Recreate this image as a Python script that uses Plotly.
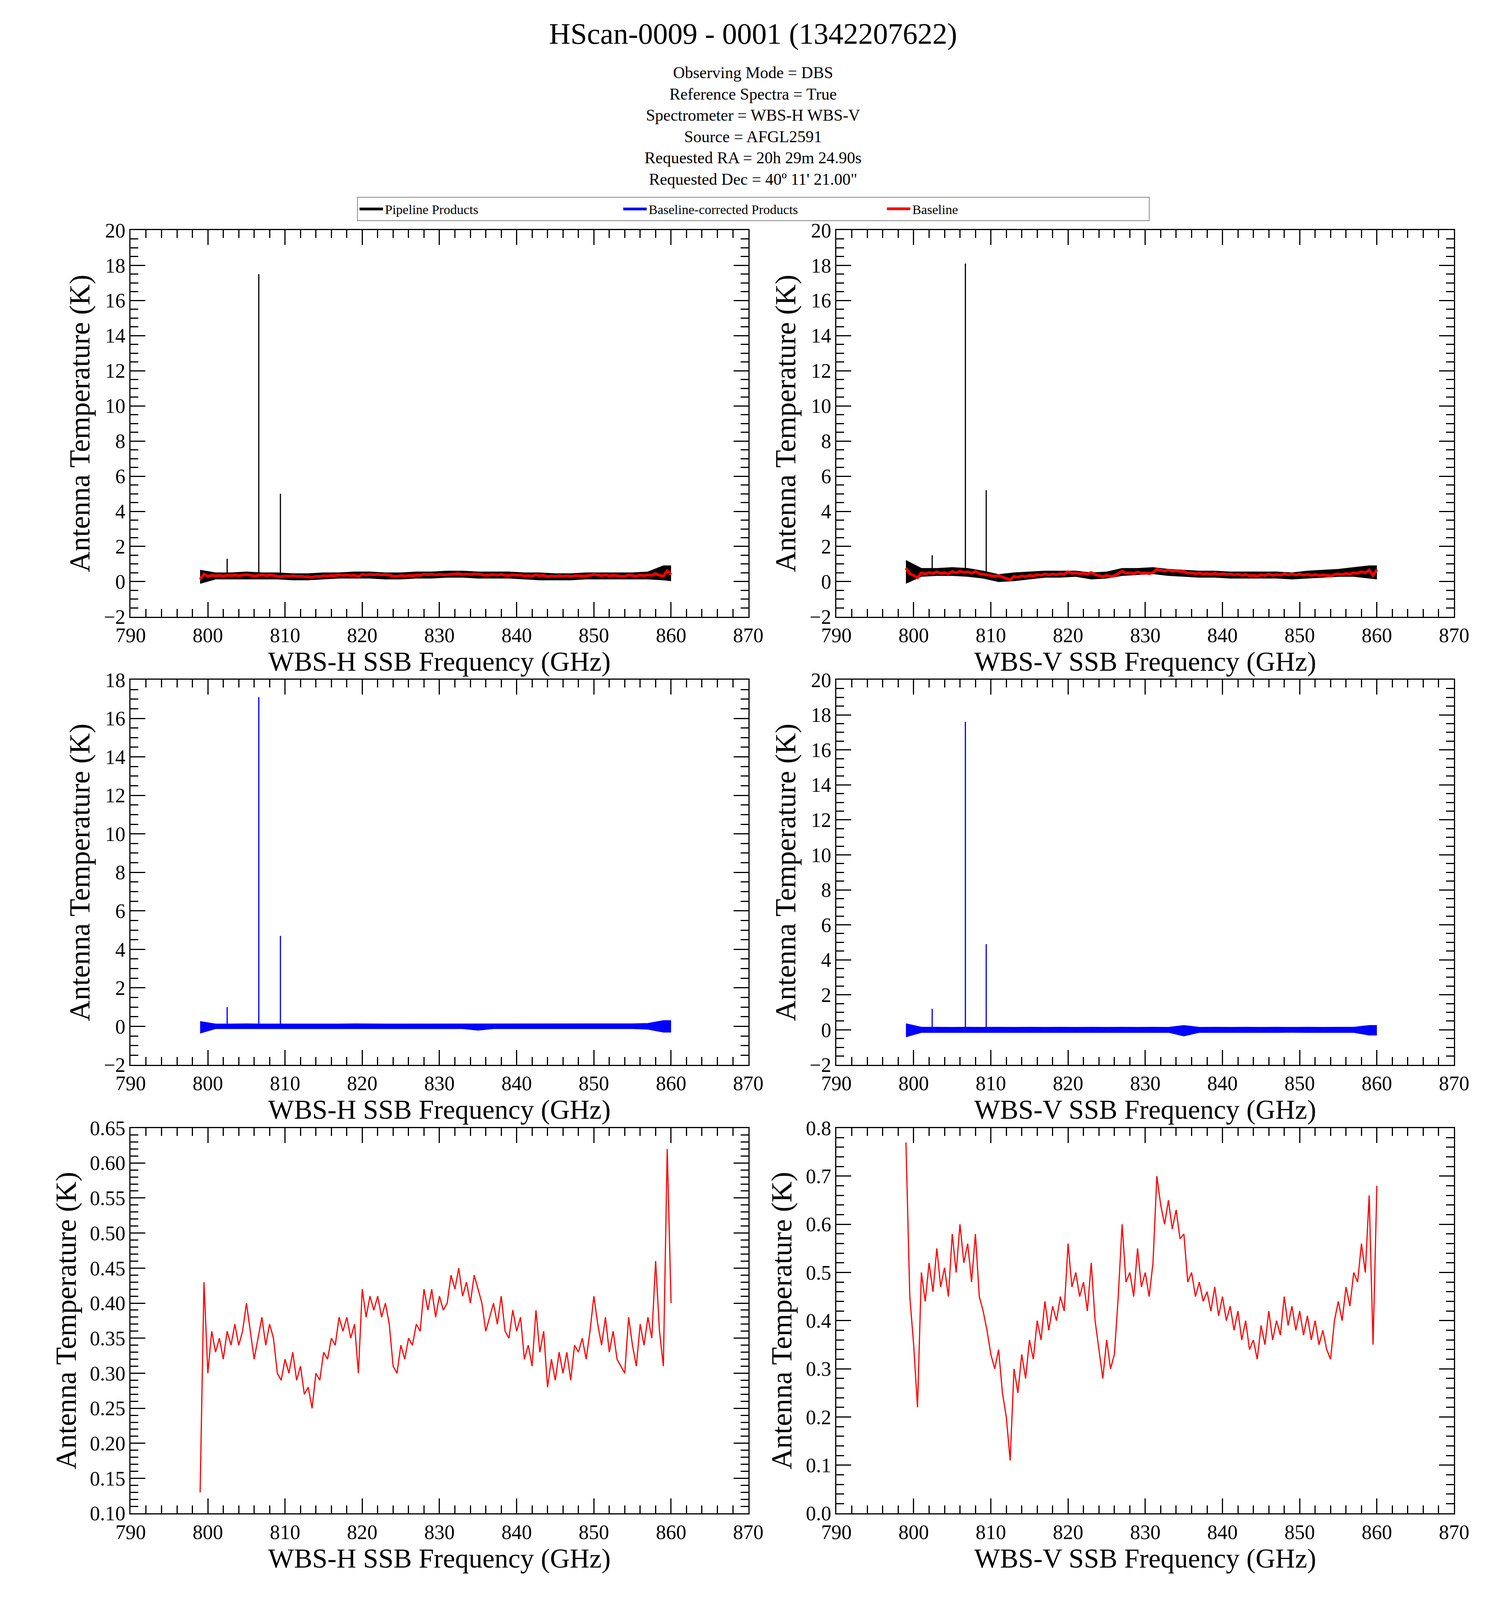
import plotly.graph_objects as go

# 1. SPECTRA VALUES
FREQ = [799.0 + 0.5 * i for i in range(123)]  # 0.5 GHz grid, 799-860
BASE_H = [0.13, 0.43, 0.30, 0.36, 0.33, 0.35, 0.32, 0.36, 0.34, 0.37, 0.34, 0.36, 0.40, 0.36, 0.32, 0.35,
          0.38, 0.34, 0.37, 0.35, 0.30, 0.29, 0.32, 0.30, 0.33, 0.29, 0.31, 0.27, 0.28, 0.25, 0.30, 0.29,
          0.33, 0.32, 0.35, 0.34, 0.38, 0.36, 0.38, 0.35, 0.37, 0.30, 0.42, 0.38, 0.41, 0.39, 0.41, 0.38,
          0.40, 0.37, 0.31, 0.30, 0.34, 0.32, 0.35, 0.34, 0.37, 0.36, 0.42, 0.39, 0.42, 0.38, 0.41, 0.39,
          0.40, 0.44, 0.42, 0.45, 0.41, 0.43, 0.40, 0.44, 0.42, 0.40, 0.36, 0.38, 0.40, 0.37, 0.41, 0.36,
          0.35, 0.39, 0.36, 0.38, 0.32, 0.34, 0.31, 0.39, 0.33, 0.36, 0.28, 0.32, 0.29, 0.33, 0.30, 0.33,
          0.29, 0.34, 0.33, 0.35, 0.32, 0.36, 0.41, 0.37, 0.34, 0.38, 0.33, 0.36, 0.32, 0.31, 0.30, 0.38,
          0.34, 0.31, 0.37, 0.34, 0.38, 0.35, 0.46, 0.36, 0.31, 0.62, 0.40]
BASE_V = [0.77, 0.45, 0.35, 0.22, 0.50, 0.44, 0.52, 0.46, 0.55, 0.47, 0.51, 0.45, 0.58, 0.50, 0.60, 0.52,
          0.56, 0.48, 0.58, 0.45, 0.42, 0.38, 0.33, 0.30, 0.34, 0.25, 0.20, 0.11, 0.30, 0.25, 0.33, 0.28,
          0.36, 0.32, 0.40, 0.36, 0.44, 0.38, 0.43, 0.40, 0.45, 0.42, 0.56, 0.47, 0.50, 0.45, 0.48, 0.42,
          0.52, 0.40, 0.34, 0.28, 0.36, 0.30, 0.33, 0.45, 0.60, 0.48, 0.50, 0.45, 0.55, 0.47, 0.50, 0.45,
          0.52, 0.70, 0.64, 0.60, 0.65, 0.59, 0.63, 0.57, 0.58, 0.48, 0.50, 0.45, 0.48, 0.44, 0.46, 0.42,
          0.47, 0.41, 0.45, 0.40, 0.43, 0.38, 0.42, 0.36, 0.40, 0.34, 0.36, 0.32, 0.39, 0.35, 0.42, 0.36,
          0.40, 0.37, 0.45, 0.39, 0.43, 0.38, 0.42, 0.37, 0.41, 0.36, 0.40, 0.35, 0.38, 0.34, 0.32, 0.40,
          0.44, 0.40, 0.47, 0.43, 0.50, 0.48, 0.56, 0.50, 0.66, 0.35, 0.68]

# noise envelopes of the products, 2 GHz grid
ENV_F = [799, 801, 803, 805, 807, 809, 811, 813, 815, 817, 819, 821, 823, 825, 827, 829,
         831, 833, 835, 837, 839, 841, 843, 845, 847, 849, 851, 853, 855, 857, 859, 860]
PIPE_H_HI = [0.65, 0.5, 0.5, 0.55, 0.5, 0.5, 0.45, 0.45, 0.5, 0.5, 0.55, 0.55, 0.5, 0.5, 0.55, 0.55,
             0.6, 0.6, 0.55, 0.55, 0.55, 0.5, 0.5, 0.45, 0.45, 0.5, 0.5, 0.5, 0.5, 0.55, 0.9, 0.9]
PIPE_H_LO = [-0.1, 0.15, 0.15, 0.15, 0.15, 0.15, 0.1, 0.1, 0.15, 0.2, 0.2, 0.2, 0.15, 0.15, 0.2, 0.2,
             0.25, 0.25, 0.2, 0.2, 0.2, 0.15, 0.1, 0.1, 0.1, 0.15, 0.15, 0.15, 0.15, 0.15, 0.1, 0.05]
PIPE_V_HI = [1.2, 0.75, 0.75, 0.8, 0.75, 0.6, 0.4, 0.5, 0.55, 0.6, 0.6, 0.6, 0.5, 0.55, 0.75, 0.75,
             0.8, 0.7, 0.65, 0.6, 0.6, 0.55, 0.55, 0.55, 0.55, 0.5, 0.6, 0.65, 0.7, 0.8, 0.9, 0.9]
PIPE_V_LO = [-0.1, 0.3, 0.35, 0.35, 0.3, 0.2, 0.0, 0.05, 0.15, 0.25, 0.25, 0.3, 0.15, 0.2, 0.35, 0.4,
             0.45, 0.35, 0.3, 0.25, 0.25, 0.2, 0.2, 0.2, 0.2, 0.15, 0.2, 0.25, 0.3, 0.3, 0.2, 0.15]
CORR_H_HI = [0.25, 0.12, 0.12, 0.13, 0.12, 0.12, 0.12, 0.11, 0.12, 0.12, 0.13, 0.12, 0.12, 0.12, 0.12, 0.13,
             0.12, 0.13, 0.12, 0.12, 0.12, 0.12, 0.12, 0.12, 0.13, 0.12, 0.12, 0.12, 0.13, 0.15, 0.3, 0.3]
CORR_H_LO = [-0.35, -0.12, -0.12, -0.12, -0.12, -0.13, -0.12, -0.12, -0.12, -0.12, -0.12, -0.12, -0.13, -0.12, -0.12, -0.12,
             -0.12, -0.12, -0.2, -0.12, -0.12, -0.12, -0.12, -0.13, -0.12, -0.12, -0.12, -0.12, -0.12, -0.15, -0.3, -0.3]
CORR_V_HI = [0.35, 0.15, 0.15, 0.14, 0.15, 0.14, 0.15, 0.14, 0.15, 0.14, 0.15, 0.14, 0.15, 0.14, 0.15, 0.14,
             0.15, 0.14, 0.25, 0.14, 0.15, 0.14, 0.15, 0.14, 0.15, 0.14, 0.15, 0.14, 0.15, 0.15, 0.25, 0.25]
CORR_V_LO = [-0.4, -0.15, -0.15, -0.14, -0.15, -0.14, -0.15, -0.14, -0.15, -0.14, -0.15, -0.14, -0.15, -0.14, -0.15, -0.14,
             -0.15, -0.14, -0.35, -0.14, -0.15, -0.14, -0.15, -0.14, -0.15, -0.14, -0.15, -0.14, -0.15, -0.15, -0.3, -0.3]

# narrow emission lines
LINE_F_H = [802.5, 806.6, 809.4]
PIPE_PEAK_H = [1.3, 17.5, 5.0]
CORR_PEAK_H = [1.0, 17.1, 4.7]
LINE_F_V = [802.4, 806.7, 809.4]
PIPE_PEAK_V = [1.5, 18.1, 5.2]
CORR_PEAK_V = [1.2, 17.6, 4.9]

FONT = "Liberation Serif"

# 2. PANEL LAYOUT
XDOM = [[0.0764, 0.4967], [0.5567, 0.977]]
YDOM = [[0.618, 0.863], [0.334, 0.578], [0.0497, 0.294]]


def spikes(freqs, peaks, floor):
    xs, ys = [], []
    for f, p in zip(freqs, peaks):
        xs += [f, f, None]
        ys += [floor, p, None]
    return xs, ys


def band(fig, hi, lo, color, ax, name, show):
    fig.add_trace(go.Scatter(x=ENV_F, y=lo, mode="lines", line=dict(color=color, width=2),
                             xaxis=ax[0], yaxis=ax[1], showlegend=False, hoverinfo="skip"))
    fig.add_trace(go.Scatter(x=ENV_F, y=hi, mode="lines", line=dict(color=color, width=2), fill="tonexty",
                             fillcolor=color, xaxis=ax[0], yaxis=ax[1], name=name, showlegend=show))


fig = go.Figure()
axes = [("x", "y"), ("x2", "y2"), ("x3", "y3"), ("x4", "y4"), ("x5", "y5"), ("x6", "y6")]

# top row: pipeline products with baseline
band(fig, PIPE_H_HI, PIPE_H_LO, "black", axes[0], "Pipeline Products", True)
sx, sy = spikes(LINE_F_H, PIPE_PEAK_H, 0.3)
fig.add_trace(go.Scatter(x=sx, y=sy, mode="lines", line=dict(color="black", width=3), xaxis="x", yaxis="y", showlegend=False))
band(fig, PIPE_V_HI, PIPE_V_LO, "black", axes[1], "Pipeline Products", False)
sx, sy = spikes(LINE_F_V, PIPE_PEAK_V, 0.4)
fig.add_trace(go.Scatter(x=sx, y=sy, mode="lines", line=dict(color="black", width=3), xaxis="x2", yaxis="y2", showlegend=False))

# middle row: baseline-corrected
band(fig, CORR_H_HI, CORR_H_LO, "blue", axes[2], "Baseline-corrected Products", True)
sx, sy = spikes(LINE_F_H, CORR_PEAK_H, 0.0)
fig.add_trace(go.Scatter(x=sx, y=sy, mode="lines", line=dict(color="blue", width=3), xaxis="x3", yaxis="y3", showlegend=False))
band(fig, CORR_V_HI, CORR_V_LO, "blue", axes[3], "Baseline-corrected Products", False)
sx, sy = spikes(LINE_F_V, CORR_PEAK_V, 0.0)
fig.add_trace(go.Scatter(x=sx, y=sy, mode="lines", line=dict(color="blue", width=3), xaxis="x4", yaxis="y4", showlegend=False))

# baselines
fig.add_trace(go.Scatter(x=FREQ, y=BASE_H, mode="lines", line=dict(color="red", width=7), xaxis="x", yaxis="y", name="Baseline"))
fig.add_trace(go.Scatter(x=FREQ, y=BASE_V, mode="lines", line=dict(color="red", width=7), xaxis="x2", yaxis="y2", showlegend=False))
fig.add_trace(go.Scatter(x=FREQ, y=BASE_H, mode="lines", line=dict(color="red", width=3), xaxis="x5", yaxis="y5", showlegend=False))
fig.add_trace(go.Scatter(x=FREQ, y=BASE_V, mode="lines", line=dict(color="red", width=3), xaxis="x6", yaxis="y6", showlegend=False))

common = dict(showline=True, linecolor="black", linewidth=3, mirror="ticks", ticks="inside", ticklen=38,
              tickwidth=3, tickcolor="black", showgrid=False, zeroline=False,
              tickfont=dict(family=FONT, size=52, color="black"),
              minor=dict(ticks="inside", ticklen=20, tickwidth=3, tickcolor="black", showgrid=False))
yspecs = [(-2, 20, 2, None), (-2, 20, 2, None), (-2, 18, 2, None), (-2, 20, 2, None),
          (0.10, 0.65, 0.05, ".2f"), (0.0, 0.8, 0.1, ".1f")]
layout = {}
for i in range(6):
    row, col = divmod(i, 2)
    sfx = "" if i == 0 else str(i + 1)
    lo, hi, dt, fmt = yspecs[i]
    band_name = "WBS-H" if col == 0 else "WBS-V"
    layout["xaxis" + sfx] = dict(common, domain=XDOM[col], anchor="y" + sfx, range=[790, 870], dtick=10,
                                 title=dict(text=band_name + " SSB Frequency (GHz)", font=dict(family=FONT, size=70, color="black"), standoff=0))
    ydict = dict(common, domain=YDOM[row], anchor="x" + sfx, range=[lo, hi], dtick=dt,
                 title=dict(text="Antenna Temperature (K)", font=dict(family=FONT, size=74, color="black"), standoff=12))
    ydict["minor"] = dict(common["minor"], nticks=5)
    if fmt:
        ydict["tickformat"] = fmt
    layout["yaxis" + sfx] = ydict
    layout["xaxis" + sfx]["minor"] = dict(common["minor"], dtick=2)

fig.update_layout(**layout)
fig.update_layout(
    autosize=True, paper_bgcolor="white", plot_bgcolor="white",
    margin=dict(l=0, r=0, t=0, b=0),
    title=dict(text="HScan-0009 - 0001 (1342207622)", x=0.5, xanchor="center", y=0.981, yanchor="middle",
               font=dict(family=FONT, size=76, color="black")),
    legend=dict(orientation="h", x=0.5, xanchor="center", y=0.8765, yanchor="middle", bordercolor="#888888",
                borderwidth=2, font=dict(family=FONT, size=34, color="black"), entrywidth=600, itemwidth=60,
                traceorder="normal"),
    annotations=[dict(text="Observing Mode = DBS<br>Reference Spectra = True<br>Spectrometer = WBS-H WBS-V<br>"
                           "Source = AFGL2591<br>Requested RA = 20h 29m 24.90s<br>Requested Dec = 40\u00ba 11' 21.00\"",
                      x=0.5, y=0.929, xref="paper", yref="paper", yanchor="middle", showarrow=False, align="center",
                      font=dict(family=FONT, size=42, color="black"))],
)

# 3. SAVE
fig.write_html("out.html", default_width="100vw", default_height="100vh")
